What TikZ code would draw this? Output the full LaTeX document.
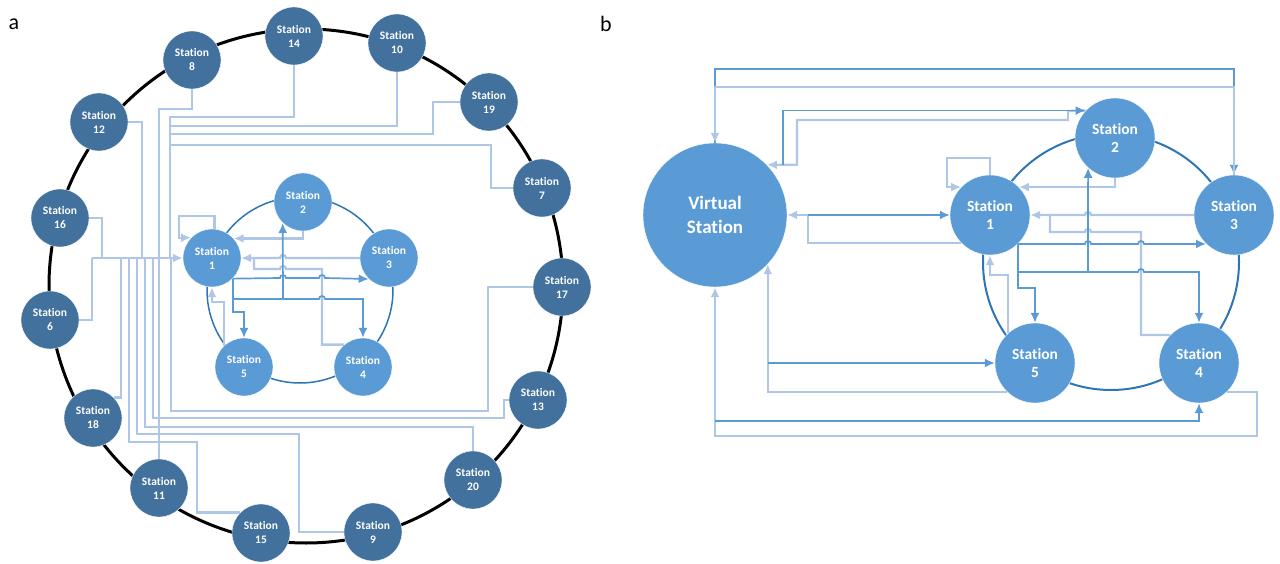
\documentclass[tikz,border=0pt]{standalone}
\usepackage{fontspec}
\setmainfont{Carlito}[RawFeature=-liga]
\usetikzlibrary{arrows.meta}
\definecolor{steel}{HTML}{41719C}
\definecolor{sky}{HTML}{5B9BD5}
\definecolor{paleblue}{HTML}{B0C6E6}
\definecolor{ringblue}{HTML}{2E75B6}
\newcommand\hopleft[2]{-- ({#1+3},#2) arc[start angle=0,end angle=180,radius=3pt]}
\newcommand\hopright[2]{-- ({#1-3},#2) arc[start angle=180,end angle=0,radius=3pt]}

\begin{document}
\begin{tikzpicture}
    [x=1pt, y=-1pt,
    outer/.style={circle, fill=steel, draw=white, thin, minimum size=58pt, inner sep=0pt, align=center, text=white, font=\bfseries\fontsize{11.5}{14}\selectfont},
    inner/.style={outer, fill=sky},
    bigger/.style={inner, minimum size=80pt, font=\bfseries\fontsize{15.5}{18}\selectfont},
    lite/.style={draw=paleblue, line width=2.3pt},
    dark/.style={draw=sky, line width=1.7pt},
    >={Latex[length=10pt,width=9pt]}]
    \useasboundingbox (0,0) rectangle (1280,564);
    \node[font=\fontsize{22}{22}\selectfont] (la) at (14,24) {a};
    \node[font=\fontsize{22}{22}\selectfont] (lb) at (606,24) {b};

    \draw[line width=3pt] (306,286) circle[radius=257pt];
    \draw[ringblue, line width=1.5pt] (300,290) circle[radius=93pt];
    \draw[ringblue, line width=2pt] (1111,262) circle[radius=128pt];

    \node[outer] (s8) at (192,60) {Station\\8};
    \node[outer] (s14) at (294,36) {Station\\14};
    \node[outer] (s10) at (397,43) {Station\\10};
    \node[outer] (s19) at (489,102) {Station\\19};
    \node[outer] (s7) at (542,188) {Station\\7};
    \node[outer] (s17) at (562,287) {Station\\17};
    \node[outer] (s13) at (538,400) {Station\\13};
    \node[outer] (s20) at (473,480) {Station\\20};
    \node[outer] (s9) at (373,532) {Station\\9};
    \node[outer] (s15) at (261,533) {Station\\15};
    \node[outer] (s11) at (159,488) {Station\\11};
    \node[outer] (s18) at (93,418) {Station\\18};
    \node[outer] (s6) at (50,320) {Station\\6};
    \node[outer] (s16) at (60,218) {Station\\16};
    \node[outer] (s12) at (99,122) {Station\\12};

    \node[inner] (s1) at (212,258) {Station\\1};
    \node[inner] (s2) at (303,202) {Station\\2};
    \node[inner] (s3) at (389,258) {Station\\3};
    \node[inner] (s4) at (363,367) {Station\\4};
    \node[inner] (s5) at (244,367) {Station\\5};

    \node[bigger, minimum size=144pt, font=\bfseries\fontsize{19}{24}\selectfont] (vs) at (715,215) {Virtual\\Station};
    \node[bigger] (b1) at (990,215) {Station\\1};
    \node[bigger] (b2) at (1115,138) {Station\\2};
    \node[bigger] (b3) at (1234,215) {Station\\3};
    \node[bigger] (b4) at (1199,363) {Station\\4};
    \node[bigger] (b5) at (1035,363) {Station\\5};

    \coordinate (bus) at (92,258);
    \draw[lite, ->] (bus) -- (s1.west);
    \draw[lite] (s6.east) -| (bus);
    \draw[lite] (s16.east) -| (102,258);
    \draw[lite] (s12.east) -| (142,258);
    \draw[lite] (s8.south) |- (159,109) -- (159,258);
    \draw[lite] (s14.south) |- (170,117) -- (170,258);
    \draw[lite] (s10.south) |- (170,126);
    \draw[lite] (s19.west) -| (433,134) -- (170,134);
    \draw[lite] (s7.west) -| (491,145) -- (170,145);
    \draw[lite] (s17.west) -| (488,411) -| (171,258);
    \draw[lite] (s13.west) -| (504,418) -| (153,258);
    \draw[lite] (s20.north) |- (145,427) -- (145,258);
    \draw[lite] (s9.west) -| (299,434) -| (137,258);
    \draw[lite] (s15.north west) -| (197,442) -| (129,258);
    \draw[lite] (s18.north east) -| (121,258);
    \draw[lite] (s11.north) -- (159,258);

    \draw[lite, ->] (s1.85) |- (179,216) |- (s1.136);
    \draw[lite, ->] (s2.south) |- (s1.42);
    \draw[lite, ->] (s3.west) \hopleft{283}{258} -- (s1.east);
    \draw[lite] (s4.130) -| (322,269) \hopleft{283}{269} -| (254,258);
    \draw[lite, ->] (s5.134) |- (212,302) -- (s1.south);
    \draw[dark, ->] (s1.-45) \hopright{283}{278} \hopright{322}{278} -- (s3.-134);
    \draw[dark, ->] (s1.-45) |- (244,312) -- (s5.north);
    \draw[dark, ->] (233,299) \hopright{322}{299} -| (s4.north);
    \draw[dark, ->] (283,299) -- (s2.-134);

    \draw[dark, ->] (vs.north) |- (1234,69) -- (b3.north);
    \draw[lite, ->] (b3.north) |- (715,87) -- (vs.north);
    \draw[lite, ->] (b2.137) -- (1068,111) |- (797,120) |- (vs.44);
    \draw[dark, ->] (783,165) |- (b2.137);
    \draw[lite, ->] (b1.-136) -| (808,215) -- (vs.east);
    \draw[dark, ->] (808,215) -- (b1.west);
    \draw[lite, ->] (b1.north) |- (947,158) |- (b1.136);
    \draw[lite, ->] (b2.south) |- (b1.44);
    \draw[lite, ->] (b3.west) \hopleft{1088}{215} -- (b1.east);
    \draw[lite] (b4.136) -| (1141,232) \hopleft{1088}{232} -| (1050,215);
    \draw[lite, ->] (b5.132) |- (990,275) -- (b1.south);
    \draw[dark, ->] (b1.-46) \hopright{1088}{244} \hopright{1141}{244} -- (b3.-134);
    \draw[dark, ->] (b1.-46) |- (1035,288) -- (b5.north);
    \draw[dark, ->] (1018,272) \hopright{1141}{272} -| (b4.north);
    \draw[dark, ->] (1088,272) -- (b2.-132);
    \draw[lite, ->] (b5.-134) -| (vs.-43);
    \draw[dark, ->] (768,363) -- (b5.west);
    \draw[lite, ->] (b4.-46) -| (1257,436) -| (vs.south);
    \draw[dark, ->] (715,421) -| (b4.south);
\end{tikzpicture}
\end{document}
